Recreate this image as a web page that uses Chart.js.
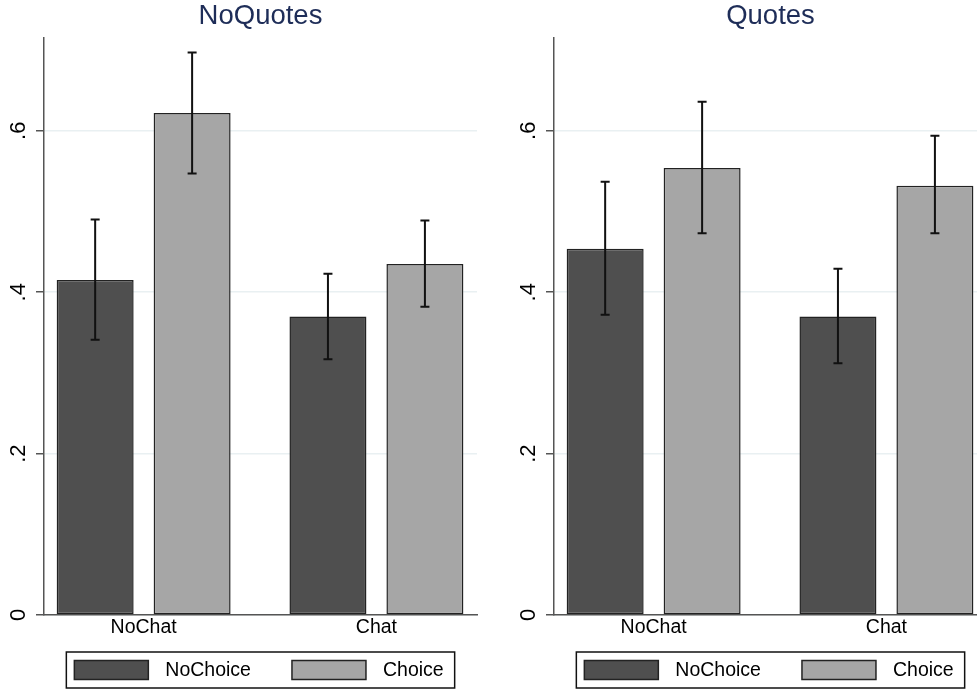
<!DOCTYPE html>
<html>
<head>
<meta charset="utf-8">
<script src="https://cdn.jsdelivr.net/npm/chart.js@4"></script>
<style>
  html, body { margin: 0; padding: 0; background: #fff; overflow: hidden; }
  #wrap { position: relative; width: 977px; height: 690px; overflow: hidden; }
  #wrap canvas { position: absolute; top: 0; }
</style>
</head>
<body>
<div id="wrap">
  <canvas id="leftChart" width="490" height="690" style="left:0"></canvas>
  <canvas id="rightChart" width="500" height="690" style="left:490px"></canvas>
</div>
<script>
// values
const categories = ['NoChat', 'Chat'];
const seriesNames = ['NoChoice', 'Choice'];
const yTickLabels = ['0', '.2', '.4', '.6'];

const noQuotesNoChoice = [0.415, 0.370];
const noQuotesNoChoiceHi = [0.490, 0.423];
const noQuotesNoChoiceLo = [0.341, 0.317];
const noQuotesChoice = [0.622, 0.435];
const noQuotesChoiceHi = [0.697, 0.489];
const noQuotesChoiceLo = [0.547, 0.382];

const quotesNoChoice = [0.454, 0.370];
const quotesNoChoiceHi = [0.537, 0.429];
const quotesNoChoiceLo = [0.372, 0.312];
const quotesChoice = [0.554, 0.532];
const quotesChoiceHi = [0.636, 0.594];
const quotesChoiceLo = [0.473, 0.473];

Chart.defaults.font.family = '"Liberation Sans", Arial, sans-serif';
Chart.defaults.color = '#000';

const darkFill = '#4f4f4f';
const lightFill = '#a6a6a6';
const axisColor = '#555';

// whiskers from hi/lo arrays, placed on each bar through the y scale
const errorBars = {
  id: 'errorBars',
  afterDatasetsDraw(chart) {
    const ctx = chart.ctx;
    const y = chart.scales.y;
    ctx.save();
    ctx.strokeStyle = '#111';
    ctx.lineWidth = 2;
    chart.data.datasets.forEach((ds, i) => {
      chart.getDatasetMeta(i).data.forEach((bar, j) => {
        const top = y.getPixelForValue(ds.hi[j]);
        const bot = y.getPixelForValue(ds.lo[j]);
        ctx.beginPath();
        ctx.moveTo(bar.x, top); ctx.lineTo(bar.x, bot);
        ctx.moveTo(bar.x - 4.5, top); ctx.lineTo(bar.x + 4.5, top);
        ctx.moveTo(bar.x - 4.5, bot); ctx.lineTo(bar.x + 4.5, bot);
        ctx.stroke();
      });
    });
    ctx.restore();
  }
};

// stata-like boxed legend under the plot
const boxLegend = {
  id: 'boxLegend',
  afterDraw(chart) {
    const ctx = chart.ctx;
    const area = chart.chartArea;
    ctx.save();
    ctx.font = '19.5px "Liberation Sans", Arial, sans-serif';
    const sw = 74, sh = 19, pad = 8, gap = 17, between = 41, padR = 11;
    const items = chart.data.datasets.map(ds => ({ ds, w: ctx.measureText(ds.label).width }));
    let total = pad + padR;
    items.forEach((it, k) => { total += sw + gap + it.w + (k ? between : 0); });
    const boxTop = area.bottom + 37, boxH = 36;
    const left = (area.left + area.right) / 2 - total / 2;
    ctx.strokeStyle = '#111';
    ctx.lineWidth = 1.5;
    ctx.fillStyle = '#fff';
    ctx.fillRect(left, boxTop, total, boxH);
    ctx.strokeRect(left, boxTop, total, boxH);
    let x = left + pad;
    const cy = boxTop + boxH / 2;
    items.forEach((it, k) => {
      if (k) x += between;
      ctx.fillStyle = it.ds.backgroundColor;
      ctx.fillRect(x, cy - sh / 2, sw, sh);
      ctx.lineWidth = 1.5;
      ctx.strokeStyle = '#222';
      ctx.strokeRect(x, cy - sh / 2, sw, sh);
      x += sw + gap;
      ctx.fillStyle = '#000';
      ctx.textBaseline = 'middle';
      ctx.textAlign = 'left';
      ctx.fillText(it.ds.label, x, cy + 1);
      x += it.w;
    });
    ctx.restore();
  }
};

function makeDataset(label, values, hi, lo, fill) {
  return {
    label: label,
    data: values.map((v, i) => ({ x: i, y: v })),
    hi: hi,
    lo: lo,
    backgroundColor: fill,
    borderColor: '#222',
    borderWidth: 1.5,
    borderSkipped: false,
    categoryPercentage: 0.833,
    barPercentage: 0.794
  };
}

function makeChart(id, title, sets, padLeft, padRight) {
  new Chart(document.getElementById(id), {
    type: 'bar',
    data: { datasets: sets },
    options: {
      responsive: false,
      animation: false,
      events: [],
      layout: { padding: { left: padLeft, right: padRight, top: 0, bottom: 45 } },
      plugins: {
        legend: { display: false },
        tooltip: { enabled: false },
        title: {
          display: true,
          text: title,
          fullSize: false,
          color: '#1e2d58',
          font: { size: 27.5, weight: 'normal' },
          padding: { top: 0, bottom: 5 }
        }
      },
      scales: {
        x: {
          type: 'linear',
          offset: false,
          min: -0.428,
          max: 1.432,
          afterFit(scale) { scale.height = 30; },
          grid: { display: false, drawTicks: false, offset: false },
          border: { display: true, color: axisColor, width: 1.5 },
          ticks: {
            stepSize: 1,
            includeBounds: false,
            autoSkip: false,
            maxRotation: 0,
            padding: 1,
            font: { size: 19.5 },
            callback: v => (Number.isInteger(v) && categories[v]) ? categories[v] : ''
          }
        },
        y: {
          min: 0,
          max: 0.715,
          afterFit(scale) { scale.width = 44; },
          grid: { color: '#e9f0f2', lineWidth: 1.5, tickLength: 8, tickColor: axisColor, tickWidth: 1.5 },
          border: { display: true, color: axisColor, width: 1.5 },
          ticks: {
            stepSize: 0.2,
            includeBounds: false,
            minRotation: 90,
            maxRotation: 90,
            crossAlign: 'center',
            padding: 8,
            font: { size: 22 },
            callback: (v, i) => yTickLabels[i]
          }
        }
      }
    },
    plugins: [errorBars, boxLegend]
  });
}

makeChart('leftChart', 'NoQuotes', [
  makeDataset(seriesNames[0], noQuotesNoChoice, noQuotesNoChoiceHi, noQuotesNoChoiceLo, darkFill),
  makeDataset(seriesNames[1], noQuotesChoice, noQuotesChoiceHi, noQuotesChoiceLo, lightFill)
], 0, 13);

makeChart('rightChart', 'Quotes', [
  makeDataset(seriesNames[0], quotesNoChoice, quotesNoChoiceHi, quotesNoChoiceLo, darkFill),
  makeDataset(seriesNames[1], quotesChoice, quotesChoiceHi, quotesChoiceLo, lightFill)
], 20, 3);
</script>
</body>
</html>
